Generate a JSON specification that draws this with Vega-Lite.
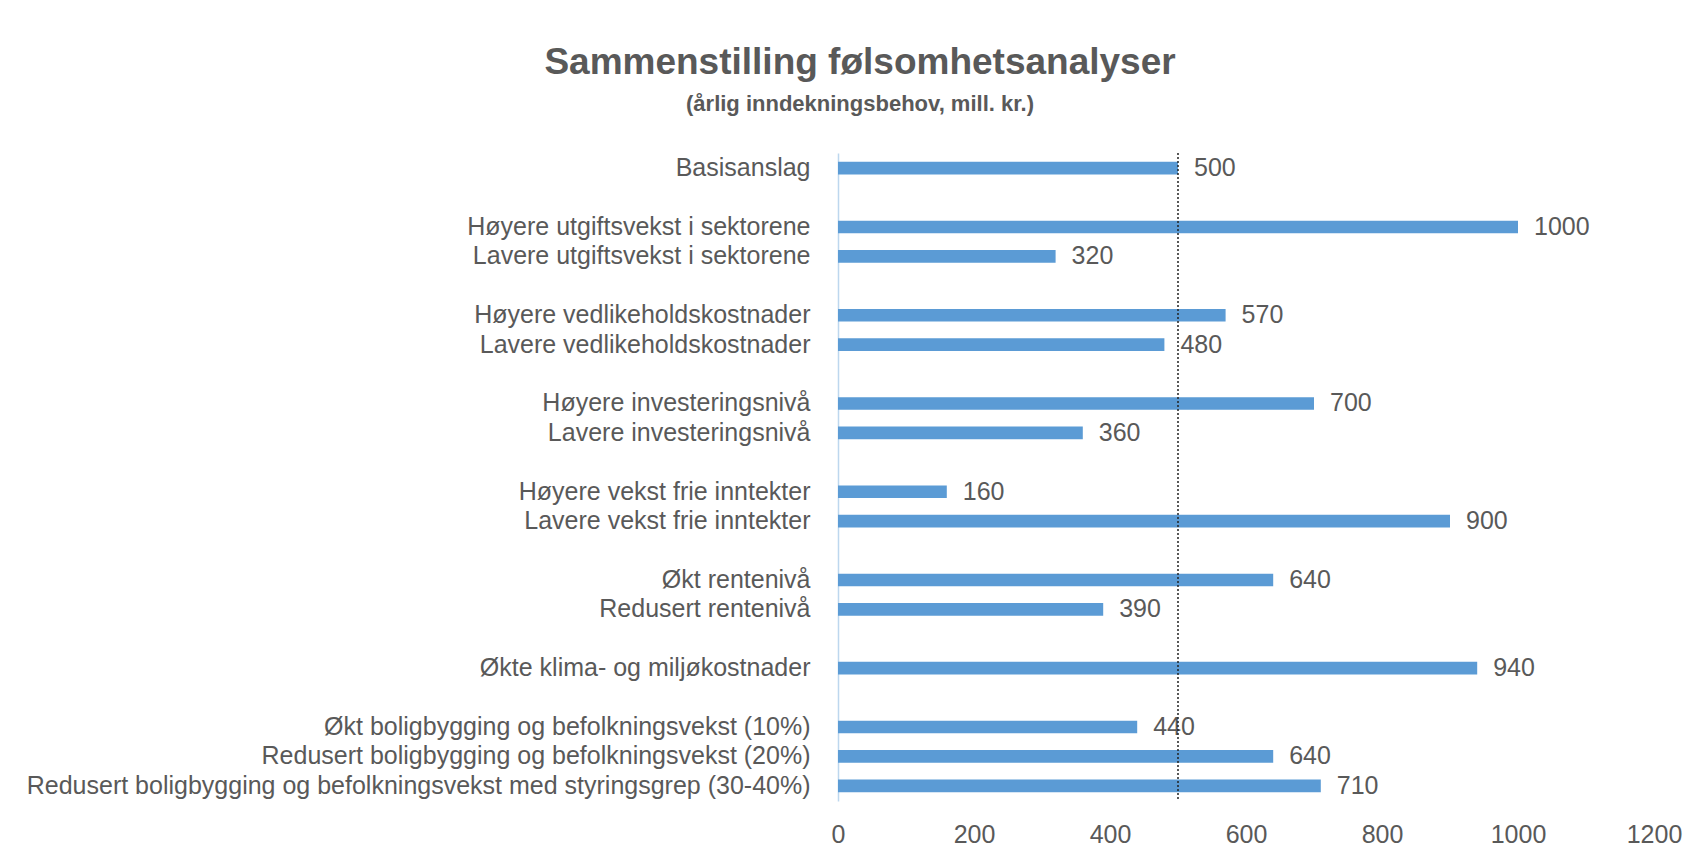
{
  "$schema": "https://vega.github.io/schema/vega-lite/v6.json",
  "autosize": "none",
  "width": 816,
  "height": 648,
  "padding": {"left": 838, "top": 153, "right": 39, "bottom": 64},
  "background": "white",
  "title": {
    "text": "Sammenstilling følsomhetsanalyser",
    "subtitle": "(årlig inndekningsbehov, mill. kr.)",
    "anchor": "middle",
    "frame": "group",
    "dx": -386,
    "offset": 36,
    "font": "Liberation Sans",
    "fontSize": 37,
    "fontWeight": "bold",
    "color": "#595959",
    "subtitleFont": "Liberation Sans",
    "subtitleFontSize": 22,
    "subtitleFontWeight": "bold",
    "subtitleColor": "#595959",
    "subtitlePadding": 12
  },
  "config": {
    "view": {"stroke": null},
    "font": "Liberation Sans"
  },
  "data": {
    "values": [
      {"label": "Basisanslag", "value": 500},
      {"label": "Høyere utgiftsvekst i sektorene", "value": 1000},
      {"label": "Lavere utgiftsvekst i sektorene", "value": 320},
      {"label": "Høyere vedlikeholdskostnader", "value": 570},
      {"label": "Lavere vedlikeholdskostnader", "value": 480},
      {"label": "Høyere investeringsnivå", "value": 700},
      {"label": "Lavere investeringsnivå", "value": 360},
      {"label": "Høyere vekst frie inntekter", "value": 160},
      {"label": "Lavere vekst frie inntekter", "value": 900},
      {"label": "Økt rentenivå", "value": 640},
      {"label": "Redusert rentenivå", "value": 390},
      {"label": "Økte klima- og miljøkostnader", "value": 940},
      {"label": "Økt boligbygging og befolkningsvekst (10%)", "value": 440},
      {"label": "Redusert boligbygging og befolkningsvekst (20%)", "value": 640},
      {"label": "Redusert boligbygging og befolkningsvekst med styringsgrep (30-40%)", "value": 710}
    ]
  },
  "encoding": {
    "y": {
      "field": "label",
      "type": "nominal",
      "title": null,
      "scale": {
        "domain": [
          "Basisanslag", " ",
          "Høyere utgiftsvekst i sektorene", "Lavere utgiftsvekst i sektorene", "  ",
          "Høyere vedlikeholdskostnader", "Lavere vedlikeholdskostnader", "   ",
          "Høyere investeringsnivå", "Lavere investeringsnivå", "    ",
          "Høyere vekst frie inntekter", "Lavere vekst frie inntekter", "     ",
          "Økt rentenivå", "Redusert rentenivå", "      ",
          "Økte klima- og miljøkostnader", "       ",
          "Økt boligbygging og befolkningsvekst (10%)",
          "Redusert boligbygging og befolkningsvekst (20%)",
          "Redusert boligbygging og befolkningsvekst med styringsgrep (30-40%)"
        ],
        "paddingInner": 0.57,
        "paddingOuter": 0.3
      },
      "axis": {
        "domain": true,
        "domainColor": "#BDD7EE",
        "domainWidth": 1.5,
        "ticks": false,
        "labelPadding": 28,
        "labelFontSize": 25,
        "labelColor": "#595959",
        "labelLimit": 1000,
        "labelFont": "Liberation Sans"
      }
    }
  },
  "layer": [
    {
      "mark": {"type": "bar", "color": "#5B9BD5"},
      "encoding": {
        "x": {
          "field": "value",
          "type": "quantitative",
          "title": null,
          "scale": {"domain": [0, 1200], "nice": false},
          "axis": {
            "values": [0, 200, 400, 600, 800, 1000, 1200],
            "format": "d",
            "domain": false,
            "ticks": false,
            "grid": false,
            "labelPadding": 21,
            "labelFontSize": 25,
            "labelColor": "#595959",
            "labelFont": "Liberation Sans",
            "labelFlush": false
          }
        }
      }
    },
    {
      "mark": {"type": "text", "align": "left", "baseline": "middle", "dx": 16, "fontSize": 25, "color": "#595959", "font": "Liberation Sans"},
      "encoding": {
        "x": {"field": "value", "type": "quantitative"},
        "text": {"field": "value", "type": "quantitative", "format": "d"}
      }
    },
    {
      "data": {"values": [{"ref": 500}]},
      "mark": {"type": "rule", "color": "#222222", "strokeDash": [2, 2], "strokeWidth": 1.5},
      "encoding": {
        "x": {"field": "ref", "type": "quantitative"},
        "y": null
      }
    }
  ]
}
